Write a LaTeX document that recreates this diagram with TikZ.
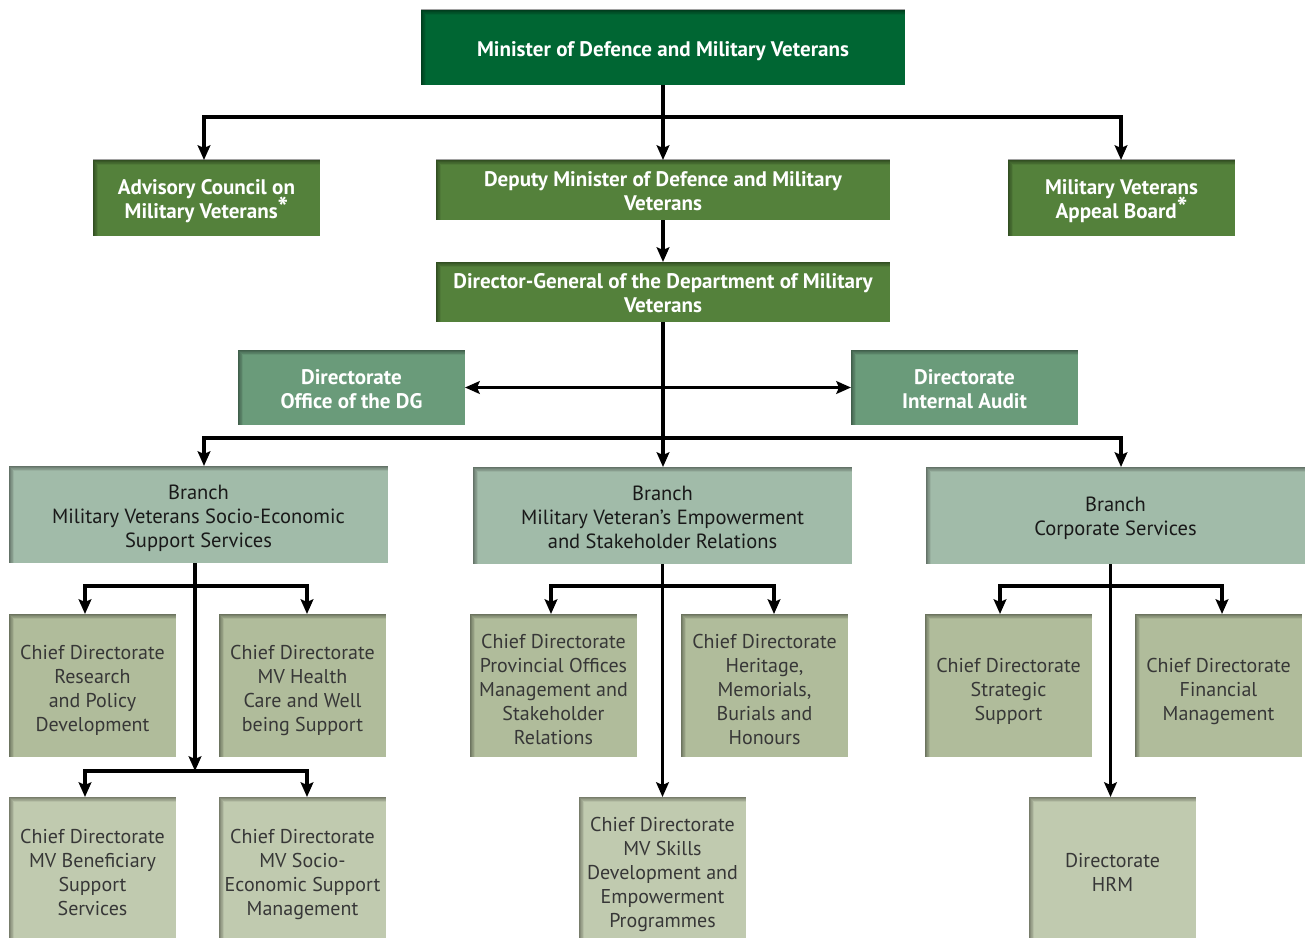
\documentclass[tikz,border=0pt]{standalone}
\usepackage{fontspec}
\setmainfont{PT Sans}
\usetikzlibrary{arrows.meta,calc}
\definecolor{cMin}{RGB}{0,102,51}
\definecolor{cTop}{RGB}{84,129,59}
\definecolor{cDir}{RGB}{106,155,122}
\definecolor{cBr}{RGB}{161,187,169}
\definecolor{cCd}{RGB}{176,188,155}
\definecolor{cCdl}{RGB}{192,202,175}
\definecolor{cTxt}{RGB}{55,55,55}
\newcommand{\myast}{\smash{\raisebox{0.1ex}{\fontsize{21}{18}\selectfont *}}}
% name, fill, text style, w, h, cx, cy, dy, text  (all in px)
\newcommand{\orgbox}[9]{%
  \node[boxbase,fill=#2,sz={#4}{#5}] (#1) at (#6,#7) {};
  \node[#3] (#1-t) at (#6,#7+#8) {#9};}
\begin{document}
\begin{tikzpicture}[x=0.75pt,y=-0.75pt,
  inshadow/.style={path picture={
    \foreach \i in {1,...,8}{
      \draw[black,opacity=0.055,line width={\i*0.9pt}]
        (path picture bounding box.south west) -- (path picture bounding box.north west) -- (path picture bounding box.north east);}}},
  sz/.style 2 args={minimum width={#1*0.75pt},minimum height={#2*0.75pt}},
  boxbase/.style={inner sep=0pt,outer sep=0pt,inshadow},
  txtbase/.style={inner sep=0pt,align=center},
  gtxt/.style={txtbase,text=white,font=\fontsize{15.8}{18}\selectfont\bfseries},
  brtxt/.style={txtbase,text=black!90,font=\fontsize{15.4}{18}\selectfont},
  cdtxt/.style={txtbase,text=cTxt,font=\fontsize{15}{18}\selectfont},
  wire/.style={line width=2.4pt,black},
  conn/.style={wire,-{Stealth[length=11pt,width=9.5pt,inset=2pt]}},
  dconn/.style={wire,{Stealth[length=11pt,width=9.5pt,inset=2pt]}-{Stealth[length=11pt,width=9.5pt,inset=2pt]}}
]
\useasboundingbox (0,0) rectangle (1305,938);
% level 0
\orgbox{min}{cMin}{gtxt}{484}{75}{663}{47.5}{4}{Minister of Defence and Military Veterans}
% level 1
\orgbox{adv}{cTop}{gtxt}{227}{76}{206.5}{198}{3}{Advisory Council on\\Military Veterans\myast}
\orgbox{dep}{cTop}{gtxt}{454}{60}{663}{190}{1}{Deputy Minister of Defence and Military\\Veterans}
\orgbox{app}{cTop}{gtxt}{227}{76}{1121.5}{198}{3}{Military Veterans\\Appeal Board\myast}
\orgbox{dg}{cTop}{gtxt}{454}{60}{663}{292}{1}{Director-General of the Department of Military\\Veterans}
% directorates
\orgbox{odg}{cDir}{gtxt}{227}{75}{351.5}{387.5}{2}{Directorate\\Office of the DG}
\orgbox{aud}{cDir}{gtxt}{227}{75}{964.5}{387.5}{2}{Directorate\\Internal Audit}
% branches
\orgbox{br1}{cBr}{brtxt}{379}{97}{198.5}{514.5}{4}{Branch\\Military Veterans Socio-Economic\\Support Services}
\orgbox{br2}{cBr}{brtxt}{379}{97}{662.5}{515.5}{2}{Branch\\Military Veteran's Empowerment\\and Stakeholder Relations}
\orgbox{br3}{cBr}{brtxt}{379}{97}{1115.5}{515.5}{3}{Branch\\Corporate Services}
% chief directorates row 1
\orgbox{res}{cCd}{cdtxt}{167}{143}{92.5}{685.5}{5}{Chief Directorate\\Research\\and Policy\\Development}
\orgbox{hea}{cCd}{cdtxt}{167}{143}{302.5}{685.5}{5}{Chief Directorate\\MV Health\\Care and Well\\being Support}
\orgbox{pro}{cCd}{cdtxt}{167}{143}{553.5}{685.5}{4}{Chief Directorate\\Provincial Offices\\Management and\\Stakeholder\\Relations}
\orgbox{her}{cCd}{cdtxt}{167}{143}{764.5}{685.5}{4}{Chief Directorate\\Heritage,\\Memorials,\\Burials and\\Honours}
\orgbox{str}{cCd}{cdtxt}{167}{143}{1008.5}{685.5}{6}{Chief Directorate\\Strategic\\Support}
\orgbox{fin}{cCd}{cdtxt}{167}{143}{1218.5}{685.5}{6}{Chief Directorate\\Financial\\Management}
% row 2
\orgbox{ben}{cCdl}{cdtxt}{167}{141}{92.5}{867.5}{5}{Chief Directorate\\MV Beneficiary\\Support\\Services}
\orgbox{soc}{cCdl}{cdtxt}{167}{141}{302.5}{867.5}{7}{Chief Directorate\\MV Socio-\\Economic Support\\Management}
\orgbox{ski}{cCdl}{cdtxt}{167}{141}{662.5}{867.5}{7}{Chief Directorate\\MV Skills\\Development and\\Empowerment\\Programmes}
\orgbox{hrm}{cCdl}{cdtxt}{167}{141}{1112.5}{867.5}{5}{Directorate\\HRM}
% connectors top
\coordinate (j1) at (663,117);
\draw[conn] (min.south) -- (dep.north);
\draw[conn] (j1) -| ($(adv.north)+(-2.5,0)$);
\draw[conn] (j1) -| ($(app.north)+(-0.5,0)$);
\draw[conn] (dep.south) -- (dg.north);
\coordinate (j3) at (663,438);
\draw[conn] (dg.south) -- ($(br2.north)+(0.5,0)$);
\draw[dconn] (odg.east) -- (aud.west);
\draw[conn] (j3) -| ($(br1.north)+(5.5,0)$);
\draw[conn] (j3) -| ($(br3.north)+(5.5,0)$);
% branch 1
\coordinate (k1) at (195,586);
\coordinate (k2) at (195,771);
\draw[conn] ($(br1.south)+(-3.5,0)$) -- (k2);
\draw[conn] (k1) -| ($(res.north)+(-7.5,0)$);
\draw[conn] (k1) -| ($(hea.north)+(4.5,0)$);
\draw[conn] (k2) -| ($(ben.north)+(-7.5,0)$);
\draw[conn] (k2) -| ($(soc.north)+(4.5,0)$);
% branch 2
\coordinate (m1) at (662.5,586);
\draw[conn] (br2.south) -- (ski.north);
\draw[conn] (m1) -| ($(pro.north)+(-2.5,0)$);
\draw[conn] (m1) -| ($(her.north)+(9.5,0)$);
% branch 3
\coordinate (n1) at (1110.5,586);
\draw[conn] ($(br3.south)+(-5,0)$) -- ($(hrm.north)+(-2,0)$);
\draw[conn] (n1) -| ($(str.north)+(-8.5,0)$);
\draw[conn] (n1) -| ($(fin.north)+(3.5,0)$);
\end{tikzpicture}
\end{document}
